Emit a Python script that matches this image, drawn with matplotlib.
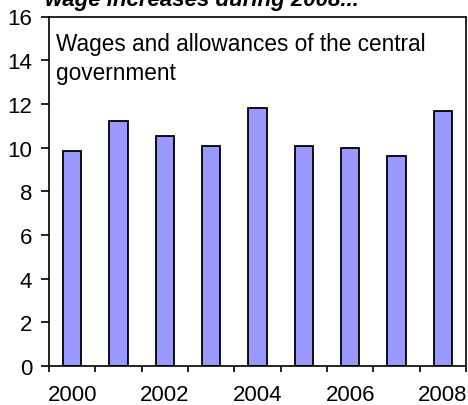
import matplotlib.pyplot as plt
import numpy as np

plt.rcParams['font.family'] = ['Liberation Sans', 'DejaVu Sans']

# dados
anos = [2000, 2001, 2002, 2003, 2004, 2005, 2006, 2007, 2008]
valores = [9.84, 11.2, 10.53, 10.07, 11.79, 10.07, 9.98, 9.61, 11.66]
rotulos_y = [0, 2, 4, 6, 8, 10, 12, 14, 16]
rotulos_x = [2000, 2002, 2004, 2006, 2008]

fig = plt.figure(figsize=(4.68, 4.06), dpi=100)
ax = fig.add_axes([49 / 468, 1 - 367 / 406, 417 / 468, 349.5 / 406])

pos = np.arange(len(anos))
ax.bar(pos, valores, width=0.39, color='#9999FF', edgecolor='black', linewidth=1.3)

ax.set_xlim(-0.5, len(anos) - 0.5)
ax.set_ylim(0, 16)
ax.set_yticks(rotulos_y)
ax.tick_params(axis='y', direction='out', length=6, width=1.2, labelsize=16, pad=6)

# marcas entre as categorias, rótulos no centro
ax.set_xticks(np.arange(-0.5, len(anos), 1.0))
ax.set_xticklabels([])
ax.set_xticks([anos.index(a) for a in rotulos_x], minor=True)
ax.set_xticklabels([str(a) for a in rotulos_x], minor=True)
ax.tick_params(axis='x', which='major', direction='out', length=4.5, width=1.2)
ax.tick_params(axis='x', which='minor', length=0, labelsize=16, pad=13)

for s in ax.spines.values():
    s.set_linewidth(1.2)

ax.text(0.017, 0.956, 'Wages and allowances of the central\ngovernment',
        transform=ax.transAxes, ha='left', va='top', fontsize=16.3, linespacing=1.35)

fig.text(45 / 468, 1 - 6 / 406, 'wage increases during 2008...', ha='left', va='baseline',
         fontsize=16, fontweight='bold', fontstyle='italic')

fig.savefig('out.png', dpi=100)
